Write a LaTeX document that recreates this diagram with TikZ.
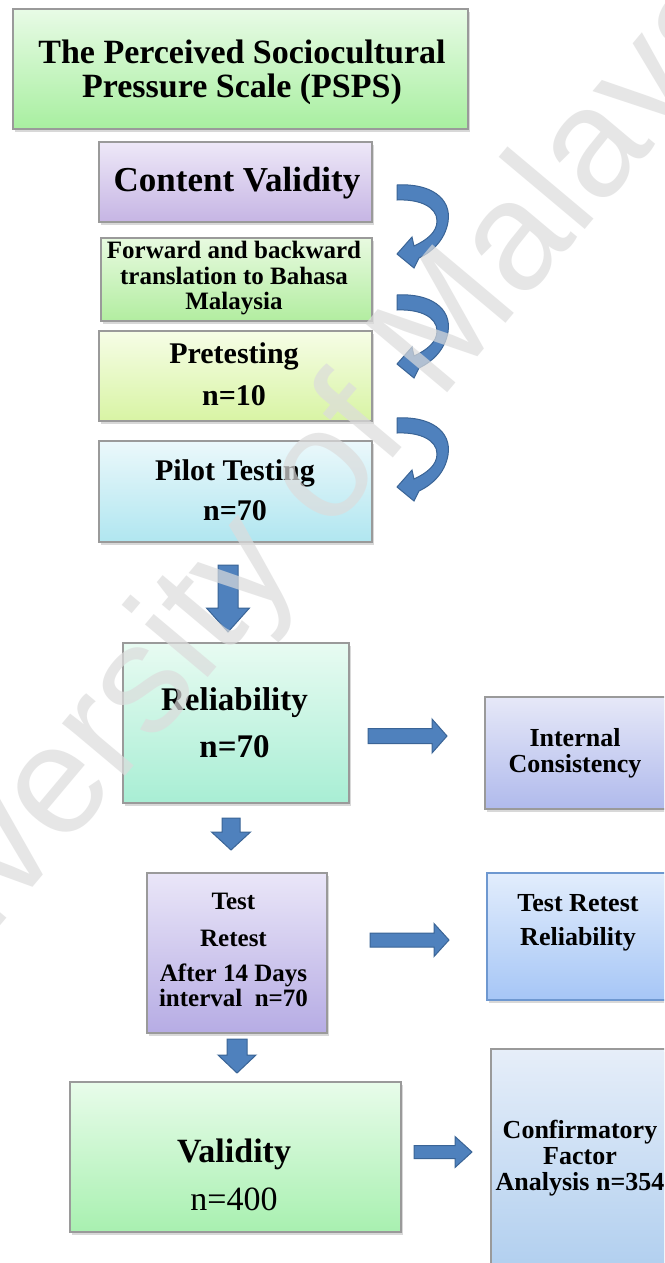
\documentclass[tikz,border=0pt]{standalone}
\usepackage{fontspec}
\setmainfont{Liberation Serif}
\setsansfont{Liberation Sans}
\usetikzlibrary{calc,shadows}

\definecolor{boxline}{HTML}{9A9A9A}
\definecolor{blueline}{HTML}{6E98D0}
\definecolor{arrowfill}{HTML}{4F81BD}
\definecolor{arrowline}{HTML}{3A6496}
\definecolor{wmgray}{HTML}{DCDCDC}

% vertical block arrow: from start coordinate down to the tip coordinate
% #3 half shaft width, #4 half head width, #5 head length
\newcommand\vblock[5]{%
  \path[blockarrow] let \p1=(#1), \p2=(#2) in
    (\x1-#3,\y1) -- (\x1-#3,\y2+#5) -- (\x1-#4,\y2+#5) -- (\x1,\y2)
    -- (\x1+#4,\y2+#5) -- (\x1+#3,\y2+#5) -- (\x1+#3,\y1) -- cycle;}
% horizontal block arrow pointing right
\newcommand\hblock[5]{%
  \path[blockarrow] let \p1=(#1), \p2=(#2) in
    (\x1,\y1+#3) -- (\x2-#5,\y1+#3) -- (\x2-#5,\y1+#4) -- (\x2,\y1)
    -- (\x2-#5,\y1-#4) -- (\x2-#5,\y1-#3) -- (\x1,\y1-#3) -- cycle;}
% curved U-turn arrow on the right of the upper steps
\newcommand\uturn[1]{%
  \begin{scope}[shift={(0,#1)}]
    \path[blockarrow]
      (397,185) .. controls (430,183) and (452,198) .. (448,222)
      .. controls (445,240) and (432,252) .. (419,258)
      -- (414,268) -- (397,254) -- (412,237) -- (414,246)
      .. controls (427,240) and (437,232) .. (437,221)
      .. controls (437,207) and (420,199) .. (397,200) -- cycle;
  \end{scope}}

\tikzset{
  box/.style={draw=boxline, line width=1.1pt, inner sep=0pt,
    drop shadow={shadow xshift=2pt, shadow yshift=-3pt, opacity=0.3}},
  txt/.style={inner sep=0pt, align=center, font=\bfseries},
  blockarrow/.style={fill=arrowfill, draw=arrowline, line width=1pt},
  watermark/.style={font=\sffamily\fontsize{155}{155}\selectfont,
    text=wmgray, text opacity=0.7, rotate=50, inner sep=0pt},
}

\begin{document}
\begin{tikzpicture}[x=1pt,y=-1pt]
\useasboundingbox (0,0) rectangle (664,1263);
\clip (0,0) rectangle (664,1263);
\fill[white] (0,0) rectangle (664,1263);

% ---- boxes ----
\node[box, top color={rgb,255:red,232;green,251;blue,230}, bottom color={rgb,255:red,168;green,239;blue,160},
  minimum width=455pt, minimum height=120pt] (title) at (240.5,69) {};
\node[box, top color={rgb,255:red,238;green,232;blue,248}, bottom color={rgb,255:red,198;green,181;blue,228},
  minimum width=273pt, minimum height=80pt] (content) at (235.5,182) {};
\node[box, top color={rgb,255:red,232;green,250;blue,224}, bottom color={rgb,255:red,178;green,237;blue,160},
  minimum width=271pt, minimum height=83pt] (forward) at (236.5,279.5) {};
\node[box, top color={rgb,255:red,246;green,253;blue,230}, bottom color={rgb,255:red,216;green,244;blue,164},
  minimum width=273pt, minimum height=90pt] (pretest) at (235.5,376) {};
\node[box, top color={rgb,255:red,235;green,248;blue,251}, bottom color={rgb,255:red,176;green,230;blue,240},
  minimum width=273pt, minimum height=101pt] (pilot) at (235.5,491.5) {};
\node[box, top color={rgb,255:red,232;green,251;blue,242}, bottom color={rgb,255:red,168;green,238;blue,212},
  minimum width=226pt, minimum height=160pt] (rel) at (236,723) {};
\node[box, top color={rgb,255:red,230;green,232;blue,248}, bottom color={rgb,255:red,176;green,186;blue,236},
  minimum width=183pt, minimum height=112pt] (internal) at (576.5,753) {};
\node[box, top color={rgb,255:red,234;green,230;blue,248}, bottom color={rgb,255:red,182;green,172;blue,228},
  minimum width=180pt, minimum height=160pt] (test) at (237,953) {};
\node[box, draw=blueline, top color={rgb,255:red,226;green,237;blue,252}, bottom color={rgb,255:red,166;green,198;blue,246},
  minimum width=181pt, minimum height=127pt] (trr) at (577.5,936.5) {};
\node[box, top color={rgb,255:red,232;green,252;blue,234}, bottom color={rgb,255:red,168;green,240;blue,176},
  minimum width=331pt, minimum height=150pt] (valid) at (235.5,1157) {};
\node[box, top color={rgb,255:red,230;green,238;blue,249}, bottom color={rgb,255:red,172;green,204;blue,238},
  minimum width=177pt, minimum height=241pt] (cfa) at (579.5,1169.5) {};

% ---- texts ----
\node[txt, font=\bfseries\fontsize{34}{34}\selectfont] (titleT) at (242,72)
  {The Perceived Sociocultural\\Pressure Scale (PSPS)};
\node[txt, font=\bfseries\fontsize{35}{35}\selectfont] (contentT) at (237,183.5)
  {Content Validity};
\node[txt, font=\bfseries\fontsize{25}{25.5}\selectfont] (forwardT) at (234,278.5)
  {Forward and backward\\translation to Bahasa\\Malaysia};
\node[txt, font=\bfseries\fontsize{30}{42}\selectfont] (pretestT) at (234,374)
  {Pretesting\\n=10};
\node[txt, font=\bfseries\fontsize{30}{40}\selectfont] (pilotT) at (235,490)
  {Pilot Testing\\n=70};
\node[txt, font=\bfseries\fontsize{33}{47}\selectfont] (relT) at (234.5,722.5)
  {Reliability\\n=70};
\node[txt, font=\bfseries\fontsize{26}{26}\selectfont] (internalT) at (575,753.5)
  {Internal\\Consistency};
\node[txt, font=\bfseries\fontsize{25}{25}\selectfont] (testT) at (233.5,950)
  {Test\\[12pt]Retest\\[10pt]After 14 Days\\interval~~n=70};
\node[txt, font=\bfseries\fontsize{26}{34}\selectfont] (trrT) at (578,923)
  {Test Retest\\Reliability};
\node[txt, font=\bfseries\fontsize{34}{48}\selectfont] (validT) at (234,1174.5)
  {Validity\\{\mdseries n=400}};
\node[txt, font=\bfseries\fontsize{26}{26}\selectfont] (cfaT) at (580,1158)
  {Confirmatory\\Factor\\Analysis n=354};

% ---- curved arrows between the first steps ----
\uturn{0}
\uturn{110}
\uturn{233}

% ---- block arrows ----
\coordinate (d1s) at (228,565);  \coordinate (d1e) at (228,632);
\coordinate (d2s) at (231,818);  \coordinate (d2e) at (231,850);
\coordinate (d3s) at (237,1039); \coordinate (d3e) at (237,1073);
\vblock{d1s}{d1e}{10pt}{21.5pt}{24pt}
\vblock{d2s}{d2e}{9pt}{19.5pt}{18pt}
\vblock{d3s}{d3e}{10pt}{19pt}{18pt}

\coordinate (r1s) at (368,736);  \coordinate (r1e) at (447,736);
\coordinate (r2s) at (370,940);  \coordinate (r2e) at (449,940);
\coordinate (r3s) at (414,1152); \coordinate (r3e) at (472,1152);
\hblock{r1s}{r1e}{7.5pt}{17pt}{15pt}
\hblock{r2s}{r2e}{7pt}{16.5pt}{15pt}
\hblock{r3s}{r3e}{6.5pt}{15.5pt}{17pt}

% ---- watermark ----
\node[watermark] (wm) at (282,528) {University of Malaya};
\end{tikzpicture}
\end{document}
